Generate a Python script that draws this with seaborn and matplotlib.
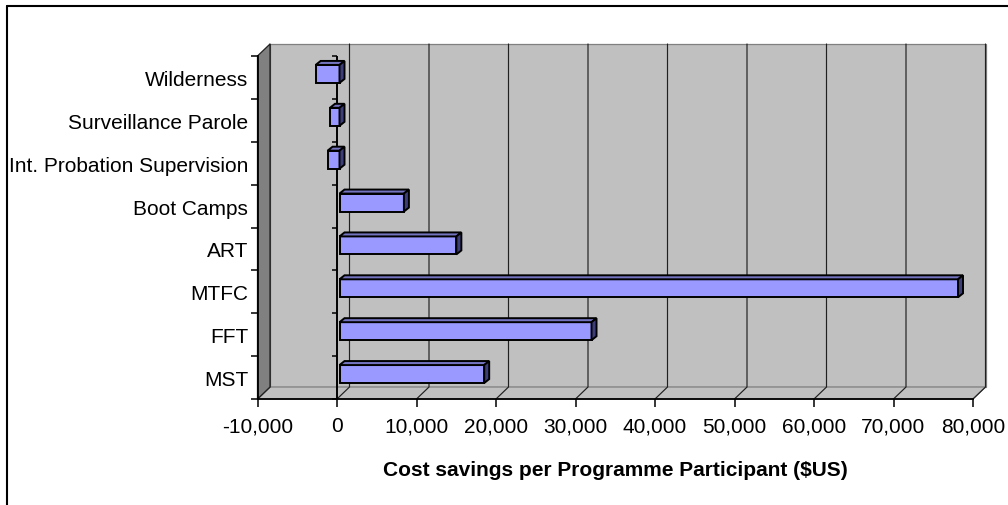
import numpy as np
import pandas as pd
import matplotlib
matplotlib.use("Agg")
import matplotlib.pyplot as plt
import seaborn as sns
from matplotlib.patches import Polygon
from matplotlib.lines import Line2D
from matplotlib.transforms import IdentityTransform, ScaledTranslation
from matplotlib.markers import TICKLEFT

# Cost savings per programme participant (US$), listed top to bottom
programmes = ["Wilderness", "Surveillance Parole", "Int. Probation Supervision",
              "Boot Camps", "ART", "MTFC", "FFT", "MST"]
savings = [-3000, -1200, -1500, 8100, 14700, 77800, 31700, 18200]
x_ticks = list(range(-10000, 80001, 10000))
x_label = "Cost savings per Programme Participant ($US)"

sns.set_theme(style="white")
plt.rcParams["font.family"] = ["Liberation Sans", "DejaVu Sans"]
plt.rcParams["text.color"] = "black"

DPI = 100
W, H = 1008, 506
fig = plt.figure(figsize=(W / DPI, H / DPI), dpi=DPI)
fig.patch.set_facecolor("white")

# front plane of the 3-D box
ax = fig.add_axes([257.5 / W, (H - 400) / H, (973 - 257.5) / W, (400 - 57) / H])
ax.set_facecolor("none")

df = pd.DataFrame({"programme": programmes, "saving": savings})
sns.barplot(data=df, x="saving", y="programme", orient="h", color="#9999FF",
            saturation=1, width=0.42, edgecolor="black", linewidth=1.4, ax=ax)
ax.set_xlim(x_ticks[0], x_ticks[-1])
ax.set_ylim(len(programmes) - 0.5, -0.5)
ax.set_xlabel("")
ax.set_ylabel("")

# depth of the box (pixels) and of each bar
Dx, Dy = 12.5, 12.0
fx, fy = 2.5, 3.5
dx, dy = 5.0, 4.0

x0, y0, x1, y1 = ax.bbox.extents
ident = IdentityTransform()

back = Polygon([(x0 + Dx, y0 + Dy), (x1 + Dx, y0 + Dy), (x1 + Dx, y1 + Dy), (x0 + Dx, y1 + Dy)],
               closed=True, transform=ident, fc="#C0C0C0", ec="#808080", lw=0.9, zorder=-3)
floor = Polygon([(x0, y0), (x1, y0), (x1 + Dx, y0 + Dy), (x0 + Dx, y0 + Dy)],
                closed=True, transform=ident, fc="#C0C0C0", ec="#808080", lw=0.9, zorder=-3)
side_wall = Polygon([(x0, y0), (x0 + Dx, y0 + Dy), (x0 + Dx, y1 + Dy), (x0, y1)],
                    closed=True, transform=ident, fc="#808080", ec="#202020", lw=0.9, zorder=-1)
for p in (back, floor, side_wall):
    fig.add_artist(p)

# gridlines running across the floor and up the back wall
for xt in x_ticks:
    xd = ax.transData.transform((xt, 0))[0]
    fig.add_artist(Line2D([xd, xd + Dx, xd + Dx], [y0, y0 + Dy, y1 + Dy],
                          transform=ident, color="#202020", lw=0.85, zorder=-2))

# category axis crossing at zero
boundaries = np.arange(-0.5, len(programmes), 1.0)
ax.axvline(0, color="black", lw=1.4, zorder=1.5)
ax.plot(np.zeros(len(boundaries)), boundaries, ls="none", marker=TICKLEFT,
        ms=3.6, mew=1.1, color="black", clip_on=False, zorder=1.5)

# give each bar its top and end faces
shift = ScaledTranslation(fx / DPI, fy / DPI, fig.dpi_scale_trans)
for patch in list(ax.patches):
    bx, by, bw, bh = patch.get_x(), patch.get_y(), patch.get_width(), patch.get_height()
    (ax1, ay1), (ax2, ay2) = ax.transData.transform([(bx, by), (bx + bw, by + bh)])
    Xl, Xr = min(ax1, ax2) + fx, max(ax1, ax2) + fx
    Yb, Yt = min(ay1, ay2) + fy, max(ay1, ay2) + fy
    patch.set_transform(ax.transData + shift)
    patch.set_clip_on(False)
    patch.set_zorder(2)
    top = Polygon([(Xl, Yt), (Xr, Yt), (Xr + dx, Yt + dy), (Xl + dx, Yt + dy)], closed=True,
                  transform=ident, fc="#7373BF", ec="black", lw=1.4, zorder=2, clip_on=False)
    end = Polygon([(Xr, Yb), (Xr, Yt), (Xr + dx, Yt + dy), (Xr + dx, Yb + dy)], closed=True,
                  transform=ident, fc="#3D3D7A", ec="black", lw=1.4, zorder=2, clip_on=False)
    ax.add_artist(top)
    ax.add_artist(end)

# axes and ticks
for side in ("top", "right"):
    ax.spines[side].set_visible(False)
for side in ("left", "bottom"):
    ax.spines[side].set_color("black")
    ax.spines[side].set_linewidth(1.3)
    ax.spines[side].set_zorder(1.6)

ax.set_xticks(x_ticks)
ax.set_xticklabels([f"{v:,}" for v in x_ticks])
ax.tick_params(axis="x", bottom=True, direction="out", length=5.8, width=1.1,
               pad=6.5, labelsize=15, color="black", labelcolor="black")
ax.set_yticks(range(len(programmes)))
ax.set_yticklabels(programmes)
ax.set_yticks(boundaries, minor=True)
ax.tick_params(axis="y", which="major", left=True, length=0, pad=6.8,
               labelsize=15, labelcolor="black")
ax.tick_params(axis="y", which="minor", left=True, direction="out", length=5,
               width=1.1, color="black")

ax.text(0.5, (400 - 471) / 343, x_label, transform=ax.transAxes, ha="center",
        va="center", fontsize=15, fontweight="bold", color="black")

# chart frame
fig.add_artist(Line2D([7 / W, 7 / W], [0, (H - 7) / H], transform=fig.transFigure,
                      color="black", lw=1.5))
fig.add_artist(Line2D([7 / W, 1], [(H - 7) / H, (H - 7) / H], transform=fig.transFigure,
                      color="black", lw=1.5))

fig.savefig("out.png", dpi=DPI)
